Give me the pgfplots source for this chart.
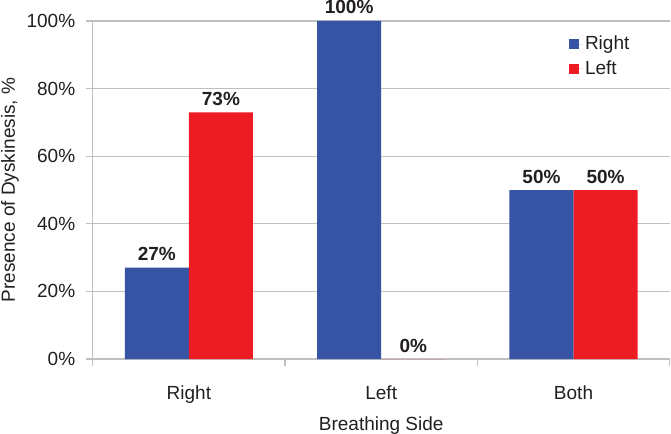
\documentclass[border=0pt]{standalone}
\usepackage{pgfplots}
\pgfplotsset{compat=1.18}
\usepackage{fontspec}
\setmainfont{Liberation Sans}

\definecolor{barblue}{RGB}{55,83,164}
\definecolor{barred}{RGB}{237,28,36}
\definecolor{gridgray}{RGB}{191,191,191}
\definecolor{txt}{RGB}{35,31,32}

\begin{document}
\fontsize{19bp}{23bp}\selectfont
\begin{tikzpicture}
\begin{axis}[
    scale only axis,
    width=577bp, height=338bp,
    /pgf/number format/assume math mode=true,
    ybar=0pt, bar width=0.3333,
    xmin=-0.5, xmax=2.5, ymin=0, ymax=100,
    clip=false,
    axis lines*=left,
    axis line style={gridgray, line width=1.2bp},
    ymajorgrids,
    grid style={gridgray, line width=1.2bp},
    xtick={0,1,2}, xticklabels={Right,Left,Both},
    minor xtick={-0.5,0.5,1.5,2.5},
    ytick={0,20,40,60,80,100},
    yticklabel={\pgfmathprintnumber{\tick}\%},
    tick align=outside,
    major tick length=7bp, minor tick length=7bp,
    tick style={gridgray, line width=1.2bp},
    major x tick style={draw=none},
    ticklabel style={text=txt},
    xticklabel style={anchor=base, yshift=-33bp},
    yticklabel style={xshift=-4bp},
    xlabel={Breathing Side},
    ylabel={Presence of Dyskinesis, \%},
    xlabel style={at={(axis description cs:0.5,-0.213)}, anchor=base, text=txt},
    ylabel style={at={(axis description cs:-0.135,0.5)}, anchor=base, text=txt},
    nodes near coords={\pgfmathprintnumber{\pgfplotspointmeta}\%},
    every node near coord/.append style={font=\bfseries, text=txt, anchor=base, yshift=7bp},
    legend style={at={(rel axis cs:0.82,0.968)}, anchor=north west, draw=none, fill=none,
        row sep=4bp, text=txt},
    legend cell align=left,
    legend image code/.code={\fill[#1] (0bp,-5bp) rectangle (10bp,5bp);
        \path (10bp,0) -- (14bp,0);},
]
\addplot[fill=barblue, draw=none] coordinates {(0,27) (1,100) (2,50)};
\addlegendentry{Right}
\addplot[fill=barred, draw=none] coordinates {(0,73) (1,0) (2,50)};
\addlegendentry{Left}
\end{axis}
\pgfresetboundingbox
\path ([shift={(-92.7bp,-75bp)}]current axis.south west)
    rectangle ([shift={(1.3bp,21bp)}]current axis.north east);
\end{tikzpicture}
\end{document}
